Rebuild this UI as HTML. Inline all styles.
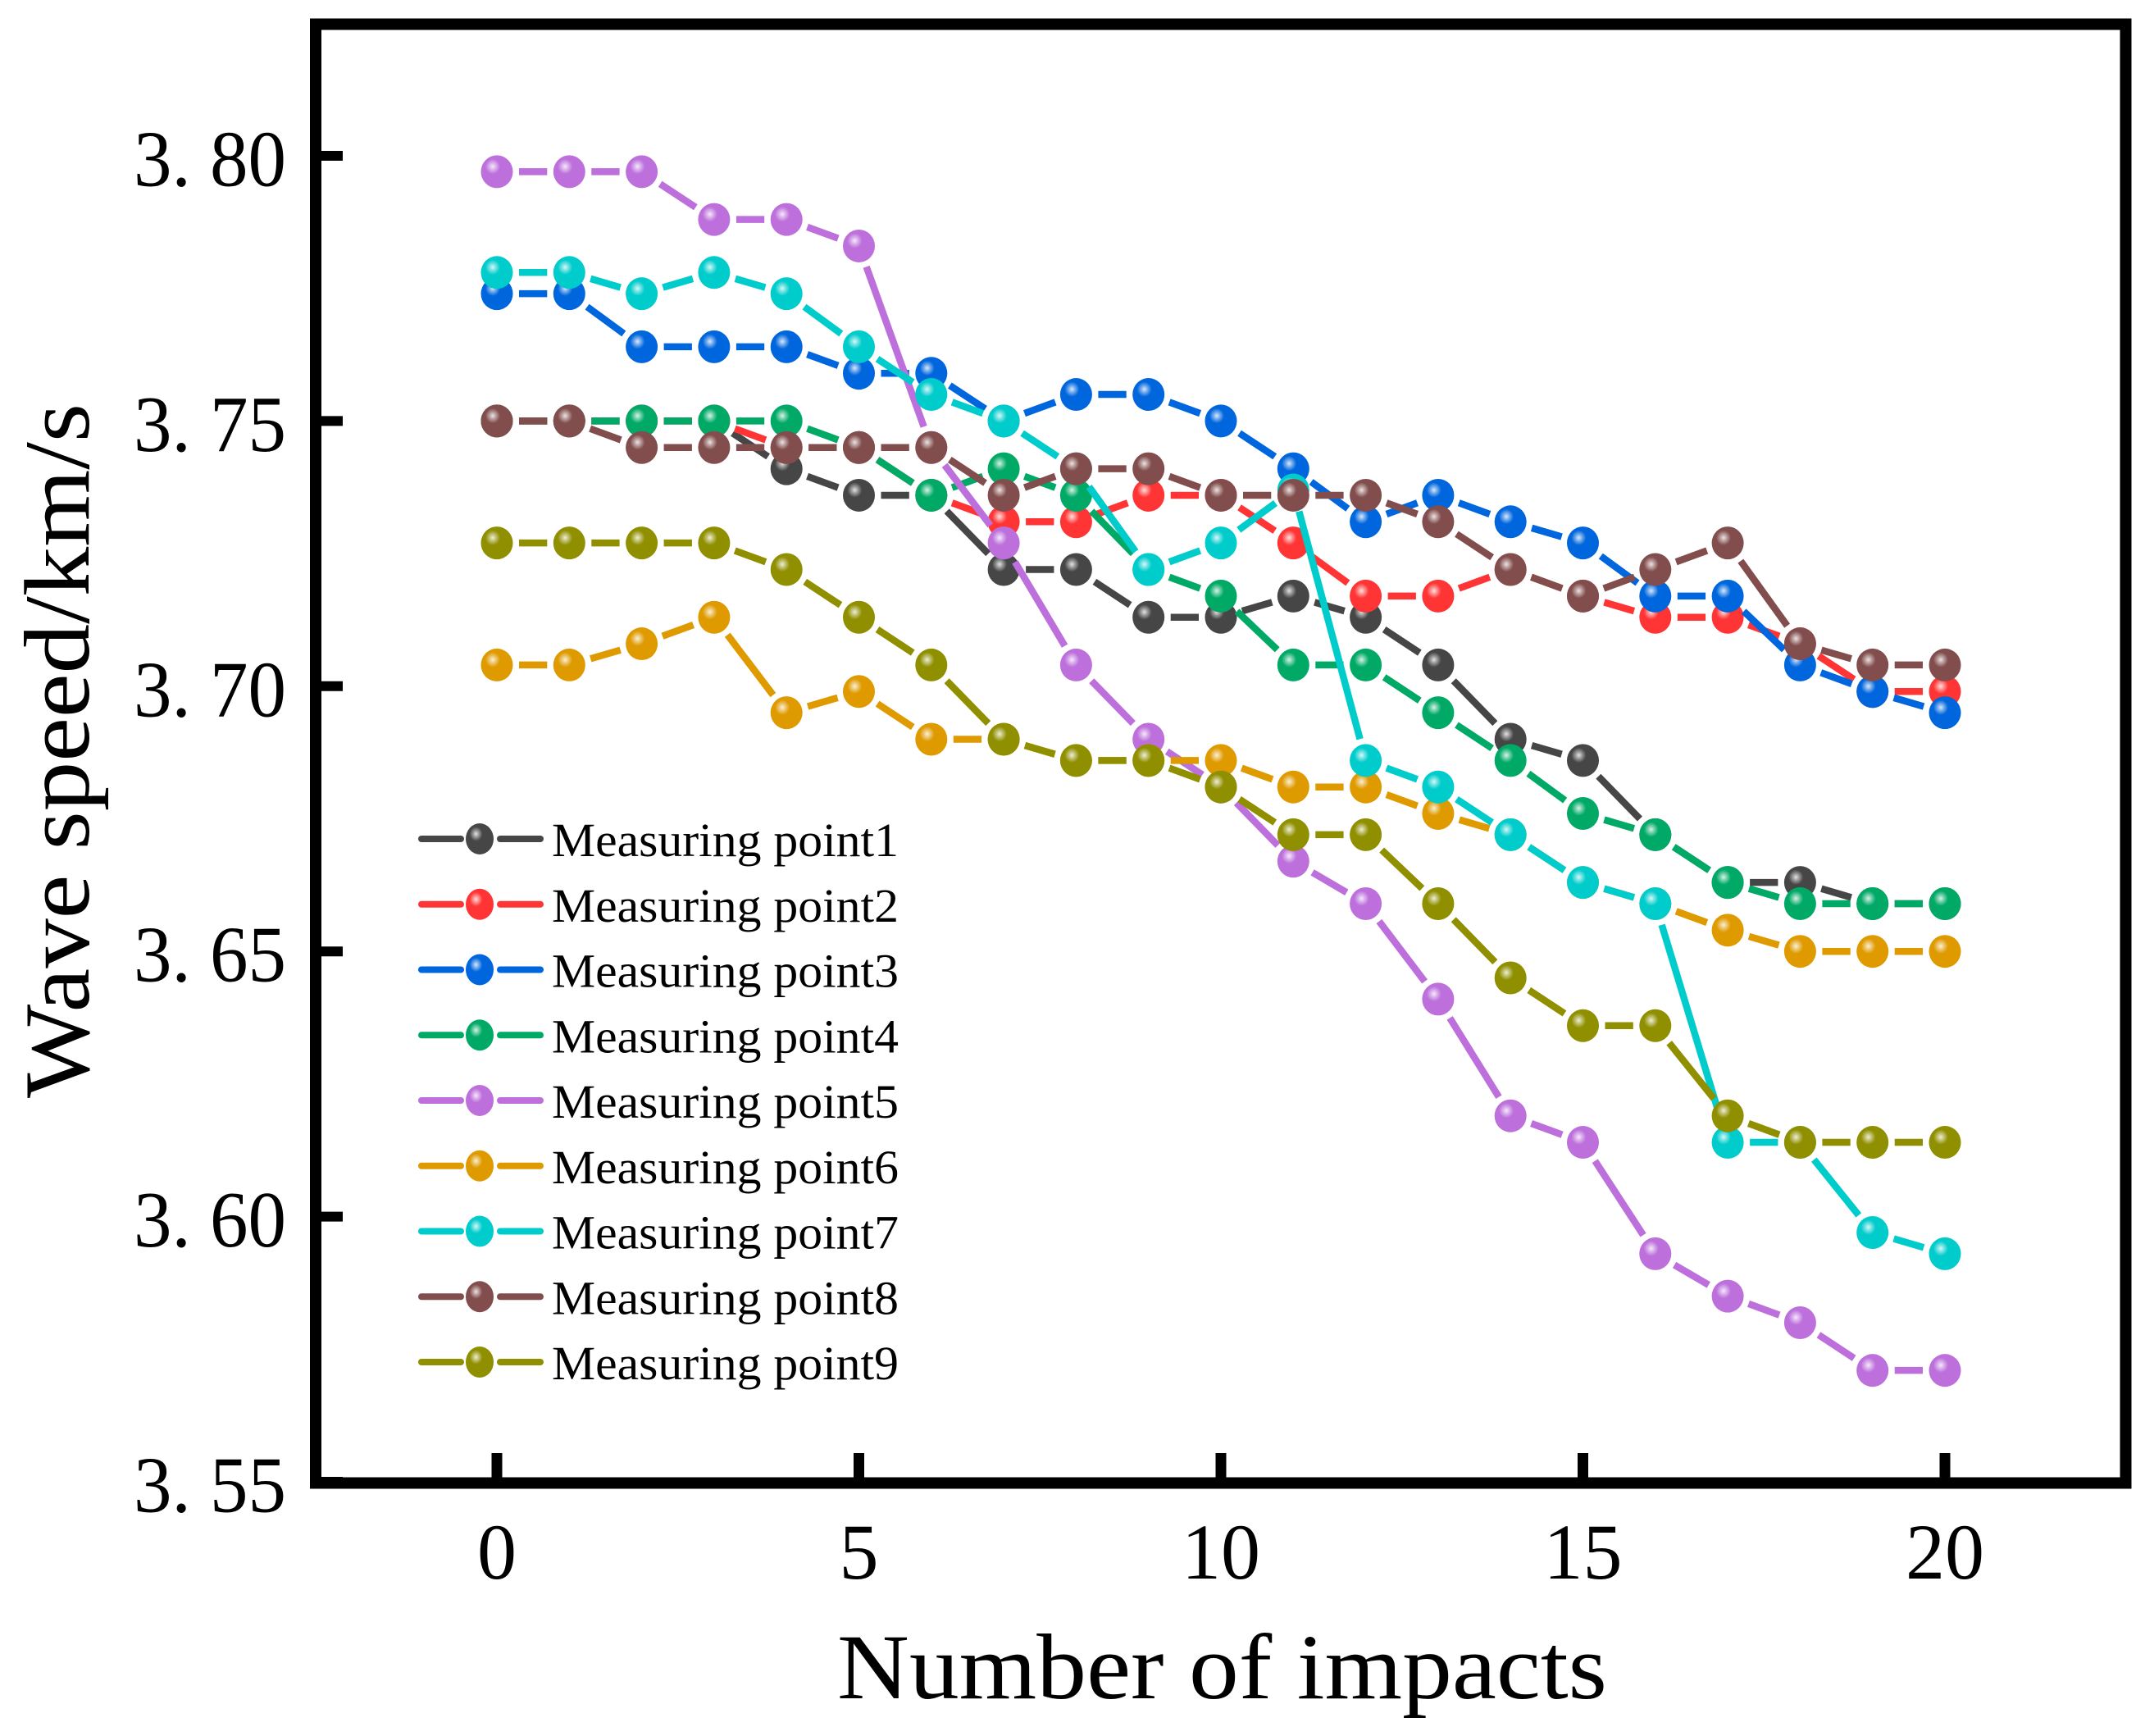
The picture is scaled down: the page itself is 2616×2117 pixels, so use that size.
<!DOCTYPE html>
<html lang="en">
<head>
<meta charset="utf-8">
<title>Wave speed vs number of impacts</title>
<style>
html,body{margin:0;padding:0;background:#fff;width:2616px;height:2117px;overflow:hidden}
svg{display:block}
text{font-family:"Liberation Serif",serif;fill:#000}
</style>
</head>
<body>
<svg id="chart" xmlns="http://www.w3.org/2000/svg" width="2616" height="2117" viewBox="0 0 2616 2117">
<defs>
<radialGradient id="shine" cx="0.5" cy="0.5" r="0.5">
<stop offset="0" stop-color="#fff" stop-opacity="0.85"/>
<stop offset="0.45" stop-color="#fff" stop-opacity="0.45"/>
<stop offset="1" stop-color="#fff" stop-opacity="0"/>
</radialGradient>
</defs>
<rect x="0" y="0" width="2616" height="2117" fill="#fff"/>
<g id="marks"></g>
<rect x="385" y="29.5" width="2207.5" height="1779" fill="none" stroke="#000" stroke-width="14"/>
<g id="axes"></g>
<text x="1021" y="2071" font-size="113" textLength="939" lengthAdjust="spacingAndGlyphs">Number of impacts</text>
<text transform="translate(108,1339) rotate(-90)" x="0" y="0" font-size="113" textLength="847" lengthAdjust="spacingAndGlyphs">Wave speed/km/s</text>
<g id="legend"></g>
</svg>
<script>
const impacts = [0,1,2,3,4,5,6,7,8,9,10,11,12,13,14,15,16,17,18,19,20];
const xTicks = [0,5,10,15,20];
const yTicks = [3.55,3.60,3.65,3.70,3.75,3.80];
const yTickLabels = ["3. 55","3. 60","3. 65","3. 70","3. 75","3. 80"];
const seriesNames = ["Measuring point1","Measuring point2","Measuring point3","Measuring point4","Measuring point5","Measuring point6","Measuring point7","Measuring point8","Measuring point9"];
const seriesColors = ["#464646","#ff3535","#0066dd","#00aa66","#bd70dc","#df9a00","#00cccc","#824d4d","#8f8f00"];
const point1 = [3.750,3.750,3.750,3.750,3.741,3.736,3.736,3.722,3.722,3.713,3.713,3.717,3.713,3.704,3.690,3.686,3.672,3.663,3.663,3.659,3.659];
const point2 = [3.750,3.750,3.750,3.750,3.745,3.745,3.736,3.731,3.731,3.736,3.736,3.727,3.717,3.717,3.722,3.717,3.713,3.713,3.708,3.699,3.699];
const point3 = [3.774,3.774,3.764,3.764,3.764,3.759,3.759,3.750,3.755,3.755,3.750,3.741,3.731,3.736,3.731,3.727,3.717,3.717,3.704,3.699,3.695];
const point4 = [3.750,3.750,3.750,3.750,3.750,3.745,3.736,3.741,3.736,3.722,3.717,3.704,3.704,3.695,3.686,3.676,3.672,3.663,3.659,3.659,3.659];
const point5 = [3.797,3.797,3.797,3.788,3.788,3.783,3.745,3.727,3.704,3.690,3.681,3.667,3.659,3.641,3.619,3.614,3.593,3.585,3.580,3.571,3.571];
const point6 = [3.704,3.704,3.708,3.713,3.695,3.699,3.690,3.690,3.686,3.686,3.686,3.681,3.681,3.676,3.672,3.663,3.659,3.654,3.650,3.650,3.650];
const point7 = [3.778,3.778,3.774,3.778,3.774,3.764,3.755,3.750,3.741,3.722,3.727,3.737,3.686,3.681,3.672,3.663,3.659,3.614,3.614,3.597,3.593];
const point8 = [3.750,3.750,3.745,3.745,3.745,3.745,3.745,3.736,3.741,3.741,3.736,3.736,3.736,3.731,3.722,3.717,3.722,3.727,3.708,3.704,3.704];
const point9 = [3.727,3.727,3.727,3.727,3.722,3.713,3.704,3.690,3.686,3.686,3.681,3.672,3.672,3.659,3.645,3.636,3.636,3.619,3.614,3.614,3.614];
const allSeries = [point1,point2,point3,point4,point5,point6,point7,point8,point9];

const NS = "http://www.w3.org/2000/svg";
function xScale(v){ return 606 + v * 88.3; }
function yScale(v){ return 190 + (3.8 - v) * 6468; }
function make(tag, parent, attrs){
  const el = document.createElementNS(NS, tag);
  for (const k in attrs) el.setAttribute(k, attrs[k]);
  parent.appendChild(el);
  return el;
}
function drawMarker(parent, cx, cy, rx, ry, color){
  const body = make("ellipse", parent, {cx:cx, cy:cy, rx:rx, ry:ry, fill:color});
  
  
  const glint = make("ellipse", parent, {cx:cx - rx*0.26, cy:cy - ry*0.32, rx:rx*0.46, ry:ry*0.46, fill:"url(#shine)"});
  
  
}

const axes = document.getElementById("axes");
xTicks.forEach(function(t){
  const x = xScale(t);
  const tick = make("line", axes, {x1:x, x2:x, y1:1772, y2:1808, stroke:"#000", "stroke-width":13});
  
  
  const label = make("text", axes, {x:x, y:1925, "font-size":96, "text-anchor":"middle"});
  
  
  label.textContent = String(t);
});
yTicks.forEach(function(t, i){
  const y = yScale(t);
  const tick = make("line", axes, {x1:386, x2:418, y1:y, y2:y, stroke:"#000", "stroke-width":12});
  
  
  const label = make("text", axes, {x:163, y:y + 36.5, "font-size":97, textLength:186, lengthAdjust:"spacingAndGlyphs"});
  
  
  label.setAttribute('xml:space', 'preserve');
  label.style.whiteSpace = 'pre';
  label.textContent = yTickLabels[i];
});

const marks = document.getElementById("marks");
const LINE_GAP = 27;
allSeries.forEach(function(values, s){
  const group = make("g", marks, {});
  
  
  for (let i = 0; i < values.length - 1; i++){
    const x1 = xScale(impacts[i]), y1 = yScale(values[i]);
    const x2 = xScale(impacts[i+1]), y2 = yScale(values[i+1]);
    const len = Math.hypot(x2 - x1, y2 - y1);
    if (len <= LINE_GAP * 2) continue;
    const ux = (x2 - x1) / len, uy = (y2 - y1) / len;
    const seg = make("line", group, {x1:x1 + ux*LINE_GAP, y1:y1 + uy*LINE_GAP, x2:x2 - ux*LINE_GAP, y2:y2 - uy*LINE_GAP, stroke:seriesColors[s], "stroke-width":8.5});
    
    
  }
  values.forEach(function(v, i){
    drawMarker(group, xScale(impacts[i]), yScale(v), 19.5, 20, seriesColors[s]);
  });
});

const legend = document.getElementById("legend");
seriesNames.forEach(function(name, s){
  const y = 1023 + s * 79.75;
  const entry = make("g", legend, {});
  
  
  const left = make("line", entry, {x1:514, x2:562, y1:y, y2:y, stroke:seriesColors[s], "stroke-width":8, "stroke-linecap":"round"});
  
  
  const right = make("line", entry, {x1:610, x2:659, y1:y, y2:y, stroke:seriesColors[s], "stroke-width":8, "stroke-linecap":"round"});
  
  
  drawMarker(entry, 585, y, 17, 19, seriesColors[s]);
  const label = make("text", entry, {x:673, y:y + 21, "font-size":58, textLength:423, lengthAdjust:"spacingAndGlyphs"});
  
  
  label.textContent = name;
});
</script>
</body>
</html>
